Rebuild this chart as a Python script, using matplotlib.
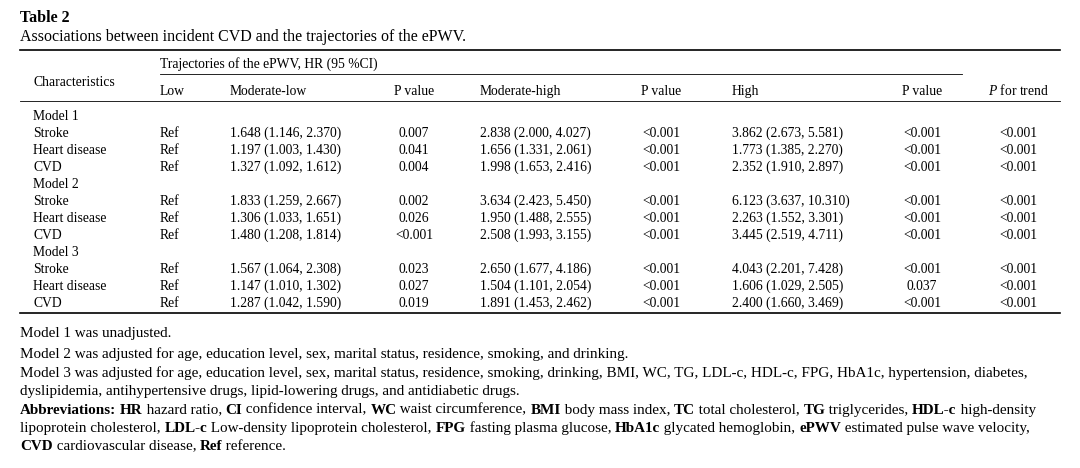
import matplotlib
matplotlib.use("Agg")
import matplotlib.pyplot as plt
from matplotlib.lines import Line2D

plt.rcParams['font.family'] = ['Liberation Serif', 'DejaVu Serif']
plt.rcParams['mathtext.fontset'] = 'custom'
plt.rcParams['mathtext.it'] = 'Liberation Serif:italic'
plt.rcParams['mathtext.rm'] = 'Liberation Serif'

W, H = 1080, 468
fig = plt.figure(figsize=(W / 100, H / 100), dpi=100)
fig.patch.set_facecolor('white')

labels = ['Model 1', 'Stroke', 'Heart disease', 'CVD',
          'Model 2', 'Stroke', 'Heart disease', 'CVD',
          'Model 3', 'Stroke', 'Heart disease', 'CVD']
low = ['', 'Ref', 'Ref', 'Ref', '', 'Ref', 'Ref', 'Ref', '', 'Ref', 'Ref', 'Ref']
mod_low = ['', '1.648 (1.146, 2.370)', '1.197 (1.003, 1.430)', '1.327 (1.092, 1.612)',
           '', '1.833 (1.259, 2.667)', '1.306 (1.033, 1.651)', '1.480 (1.208, 1.814)',
           '', '1.567 (1.064, 2.308)', '1.147 (1.010, 1.302)', '1.287 (1.042, 1.590)']
p_low = ['', '0.007', '0.041', '0.004', '', '0.002', '0.026', '<0.001',
         '', '0.023', '0.027', '0.019']
mod_high = ['', '2.838 (2.000, 4.027)', '1.656 (1.331, 2.061)', '1.998 (1.653, 2.416)',
            '', '3.634 (2.423, 5.450)', '1.950 (1.488, 2.555)', '2.508 (1.993, 3.155)',
            '', '2.650 (1.677, 4.186)', '1.504 (1.101, 2.054)', '1.891 (1.453, 2.462)']
p_mh = ['', '<0.001', '<0.001', '<0.001', '', '<0.001', '<0.001', '<0.001',
        '', '<0.001', '<0.001', '<0.001']
high = ['', '3.862 (2.673, 5.581)', '1.773 (1.385, 2.270)', '2.352 (1.910, 2.897)',
        '', '6.123 (3.637, 10.310)', '2.263 (1.552, 3.301)', '3.445 (2.519, 4.711)',
        '', '4.043 (2.201, 7.428)', '1.606 (1.029, 2.505)', '2.400 (1.660, 3.469)']
p_high = ['', '<0.001', '<0.001', '<0.001', '', '<0.001', '<0.001', '<0.001',
          '', '<0.001', '0.037', '<0.001']
p_trend = ['', '<0.001', '<0.001', '<0.001', '', '<0.001', '<0.001', '<0.001',
           '', '<0.001', '<0.001', '<0.001']

FS = 9.8
FN = 10.9


def T(x, y, s, fs=FS, ha='left', **kw):
    # y is the visual centre of lowercase text; draw on baseline
    return fig.text(x / W, 1 - (y + fs * 0.42) / H, s, fontsize=fs, ha=ha, va='baseline', **kw)


def hline(y, x0, x1, lw=0.8):
    fig.add_artist(Line2D([x0 / W, x1 / W], [1 - y / H] * 2, color='black', lw=lw))


T(20, 17, 'Table 2', fs=11.5, weight='bold')
T(20, 36, 'Associations between incident CVD and the trajectories of the ePWV.', fs=11.5)
hline(50, 20, 1060, 1.2)
T(160, 64, 'Trajectories of the ePWV, HR (95 %CI)')
hline(74, 160, 962, 0.6)
T(33, 82, 'Characteristics')
T(160, 91, 'Low')
T(230, 91, 'Moderate-low')
T(414, 91, 'P value', ha='center')
T(480, 91, 'Moderate-high')
T(661, 91, 'P value', ha='center')
T(732, 91, 'High')
T(922, 91, 'P value', ha='center')
T(1018, 91, r'$\it{P}$ for trend', ha='center')
hline(101, 20, 1060, 0.6)

y0, dy = 116, 17
for i in range(len(labels)):
    y = y0 + i * dy
    T(33, y, labels[i])
    T(160, y, low[i])
    T(230, y, mod_low[i])
    T(414, y, p_low[i], ha='center')
    T(480, y, mod_high[i])
    T(661, y, p_mh[i], ha='center')
    T(732, y, high[i])
    T(922, y, p_high[i], ha='center')
    T(1018, y, p_trend[i], ha='center')
hline(313, 20, 1060, 1.2)

T(20, 332, 'Model 1 was unadjusted.', fs=FN)
T(20, 353, 'Model 2 was adjusted for age, education level, sex, marital status, residence, smoking, and drinking.', fs=FN)
T(20, 372, 'Model 3 was adjusted for age, education level, sex, marital status, residence, smoking, drinking, BMI, WC, TG, LDL-c, HDL-c, FPG, HbA1c, hypertension, diabetes,', fs=FN)
T(20, 390, 'dyslipidemia, antihypertensive drugs, lipid-lowering drugs, and antidiabetic drugs.', fs=FN)

abbr_lines = [
    [('Abbreviations:', 1), (' ', 0), ('HR', 1), (' hazard ratio, ', 0), ('CI', 1), (' confidence interval, ', 0),
     ('WC', 1), (' waist circumference, ', 0), ('BMI', 1), (' body mass index, ', 0), ('TC', 1),
     (' total cholesterol, ', 0), ('TG', 1), (' triglycerides, ', 0), ('HDL-c', 1), (' high-density', 0)],
    [('lipoprotein cholesterol, ', 0), ('LDL-c', 1), (' Low-density lipoprotein cholesterol, ', 0),
     ('FPG', 1), (' fasting plasma glucose, ', 0), ('HbA1c', 1), (' glycated hemoglobin, ', 0),
     ('ePWV', 1), (' estimated pulse wave velocity,', 0)],
    [('CVD', 1), (' cardiovascular disease, ', 0), ('Ref', 1), (' reference.', 0)],
]
renderer = fig.canvas.get_renderer()
for k, runs in enumerate(abbr_lines):
    x = 20
    y = 409 + k * 18
    for s, b in runs:
        t = T(x, y, s, fs=FN, weight='bold' if b else 'normal')
        x += t.get_window_extent(renderer).width

fig.savefig('out.png', dpi=100, facecolor='white')
